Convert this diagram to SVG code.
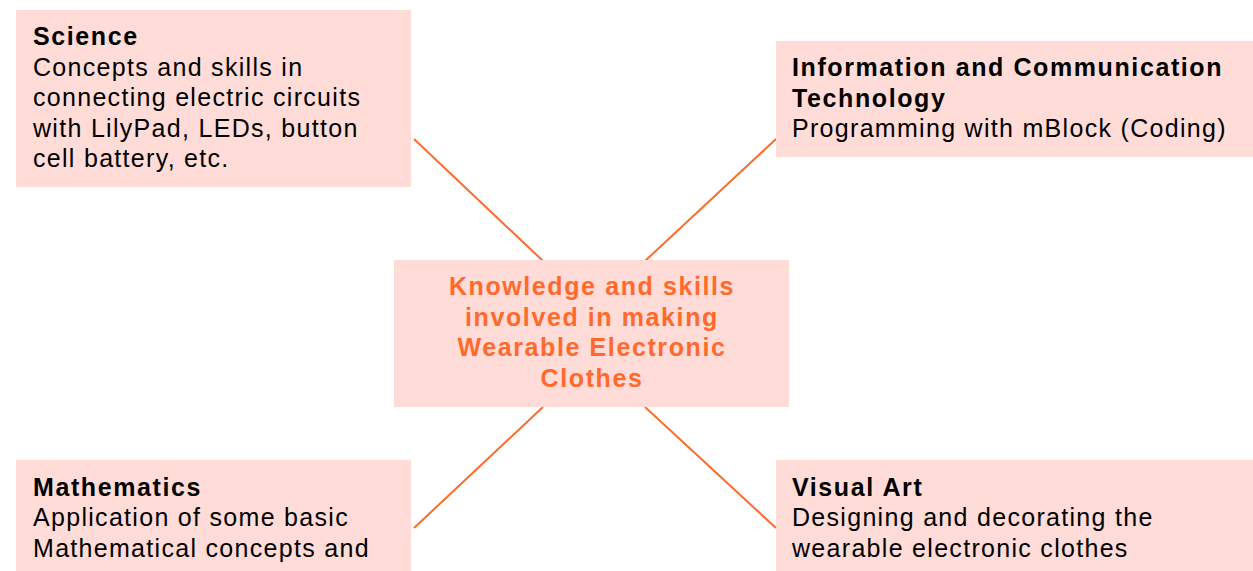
<svg xmlns="http://www.w3.org/2000/svg" width="1253" height="571" viewBox="0 0 1253 571">
<style>
.box{fill:#FFDCD7}
.t{font-family:"Liberation Sans",Arial,sans-serif;font-size:25px;fill:#000;letter-spacing:1.3px}
.b{font-weight:bold;letter-spacing:1.6px}
.c{font-family:"Liberation Sans",Arial,sans-serif;font-size:25px;font-weight:bold;fill:#FF6A2C;text-anchor:middle;letter-spacing:1.6px}
.ln{stroke:#FF6A2C;stroke-width:2;fill:none}
</style>
<rect width="1253" height="571" fill="#fff"/>
<g id="connectors">
<line class="ln" x1="414" y1="139" x2="543" y2="261"/>
<line class="ln" x1="776" y1="139" x2="645" y2="261"/>
<line class="ln" x1="543" y1="407" x2="414" y2="528"/>
<line class="ln" x1="645" y1="407" x2="776" y2="528"/>
</g>
<g id="science">
<rect class="box" x="16" y="10" width="395" height="177"/>
<text class="t b" x="33" y="45">Science</text>
<text class="t" x="33" y="76">Concepts and skills in</text>
<text class="t" x="33" y="106">connecting electric circuits</text>
<text class="t" x="33" y="137">with LilyPad, LEDs, button</text>
<text class="t" x="33" y="167">cell battery, etc.</text>
</g>
<g id="ict">
<rect class="box" x="776" y="41" width="477" height="116"/>
<text class="t b" x="792" y="76">Information and Communication</text>
<text class="t b" x="792" y="107">Technology</text>
<text class="t" x="792" y="137">Programming with mBlock (Coding)</text>
</g>
<g id="center">
<rect class="box" x="394" y="260" width="395" height="147"/>
<text class="c" x="592" y="295">Knowledge and skills</text>
<text class="c" x="592" y="326">involved in making</text>
<text class="c" x="592" y="356">Wearable Electronic</text>
<text class="c" x="592" y="387">Clothes</text>
</g>
<g id="mathematics">
<rect class="box" x="16" y="460" width="395" height="111"/>
<text class="t b" x="33" y="496">Mathematics</text>
<text class="t" x="33" y="526">Application of some basic</text>
<text class="t" x="33" y="557">Mathematical concepts and</text>
</g>
<g id="visualart">
<rect class="box" x="776" y="460" width="477" height="111"/>
<text class="t b" x="792" y="496">Visual Art</text>
<text class="t" x="792" y="526">Designing and decorating the</text>
<text class="t" x="792" y="557">wearable electronic clothes</text>
</g>
</svg>
